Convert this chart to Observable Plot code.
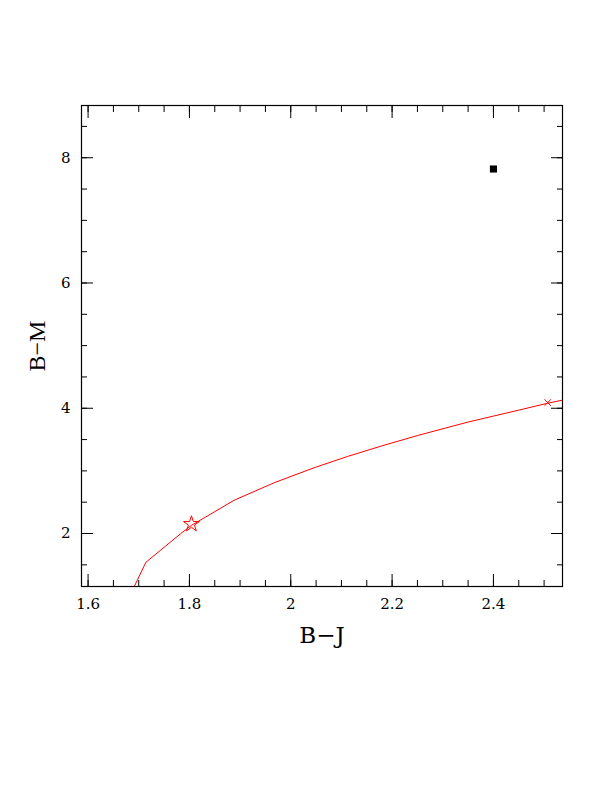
<!DOCTYPE html>
<html><head><meta charset="utf-8">
<script src="https://cdn.jsdelivr.net/npm/d3@7"></script>
<script src="https://cdn.jsdelivr.net/npm/@observablehq/plot@0.6"></script>
<style>body{margin:0;background:#fff} svg{display:block;background:#fff}</style>
</head><body><div id="chart"></div>
<script>
// Model track (red line)
const trackBJ = [1.685, 1.714, 1.783, 1.804, 1.888, 1.967, 2.046, 2.112, 2.178, 2.25, 2.35, 2.45, 2.507, 2.56];
const trackBM = [1.05, 1.54, 2.00, 2.13, 2.53, 2.81, 3.05, 3.23, 3.395, 3.564, 3.78, 3.97, 4.08, 4.17];
// Observed point (black square)
const obsBJ = [2.40];
const obsBM = [7.82];
// Star marker on track
const starBJ = [1.804];
const starBM = [2.15];
// Cross marker on track
const crossBJ = [2.507];
const crossBM = [4.09];
// Axis ticks
const xMajor = [1.6, 1.8, 2.0, 2.2, 2.4];
const xMinor = [1.6,1.65,1.7,1.75,1.8,1.85,1.9,1.95,2.0,2.05,2.1,2.15,2.2,2.25,2.3,2.35,2.4,2.45,2.5];
const yMajor = [2, 4, 6, 8];
const yMinor = [1.5,2,2.5,3,3.5,4,4.5,5,5.5,6,6.5,7,7.5,8,8.5];
const xLabel = "B\u2212J";
const yLabel = "B\u2212M";

const track = trackBJ.map((x, i) => ({x, y: trackBM[i]}));
const obs = obsBJ.map((x, i) => ({x, y: obsBM[i]}));
const star = starBJ.map((x, i) => ({x, y: starBM[i]}));
const cross = crossBJ.map((x, i) => ({x, y: crossBM[i]}));

const font = "DejaVu Serif";
const tickOpts = (anchor, size) => ({anchor, tickSize: size, tickFormat: () => "", label: null, stroke: "black", strokeWidth: 1});

const chart = Plot.plot({
  width: 612,
  height: 792,
  marginLeft: 81,
  marginRight: 50,
  marginTop: 105,
  marginBottom: 206,
  style: {background: "white", color: "black"},
  x: {domain: [1.587, 2.5363], axis: null},
  y: {domain: [1.154, 8.834], axis: null},
  marks: [
    Plot.line(track, {x: "x", y: "y", stroke: "#ff0000", strokeWidth: 1, clip: true}),
    Plot.dot(star, {x: "x", y: "y", symbol: "star", r: 5, stroke: "#ff0000", strokeWidth: 1, fill: "none"}),
    Plot.dot(cross, {x: "x", y: "y", symbol: "times", r: 3, stroke: "#ff0000", strokeWidth: 1}),
    Plot.dot(obs, {x: "x", y: "y", symbol: "square", r: 4, fill: "black", stroke: "none"}),
    Plot.frame({stroke: "black", strokeWidth: 1.2}),
    Plot.axisX(xMinor, tickOpts("bottom", -6)),
    Plot.axisX(xMajor, tickOpts("bottom", -12)),
    Plot.axisX(xMinor, tickOpts("top", -6)),
    Plot.axisX(xMajor, tickOpts("top", -12)),
    Plot.axisY(yMinor, tickOpts("left", -6)),
    Plot.axisY(yMajor, tickOpts("left", -12)),
    Plot.axisY(yMinor, tickOpts("right", -6)),
    Plot.axisY(yMajor, tickOpts("right", -12)),
    Plot.axisX(xMajor, {anchor: "bottom", tickSize: 0, tickPadding: 12, fontSize: 15, fontFamily: font, label: null, tickFormat: d => String(d)}),
    Plot.axisY(yMajor, {anchor: "left", tickSize: 0, tickPadding: 11, fontSize: 15, fontFamily: font, label: null, tickFormat: d => String(d)}),
    Plot.text([xLabel], {text: d => d, frameAnchor: "bottom", textAnchor: "middle", lineAnchor: "bottom", dy: 56, fontSize: 23, fontFamily: font, fill: "black"}),
    Plot.text([yLabel], {text: d => d, frameAnchor: "left", textAnchor: "middle", lineAnchor: "middle", dx: -44, rotate: -90, fontSize: 24, fontFamily: "Liberation Serif", fill: "black"})
  ]
});
document.getElementById("chart").appendChild(chart);
</script>
</body></html>
